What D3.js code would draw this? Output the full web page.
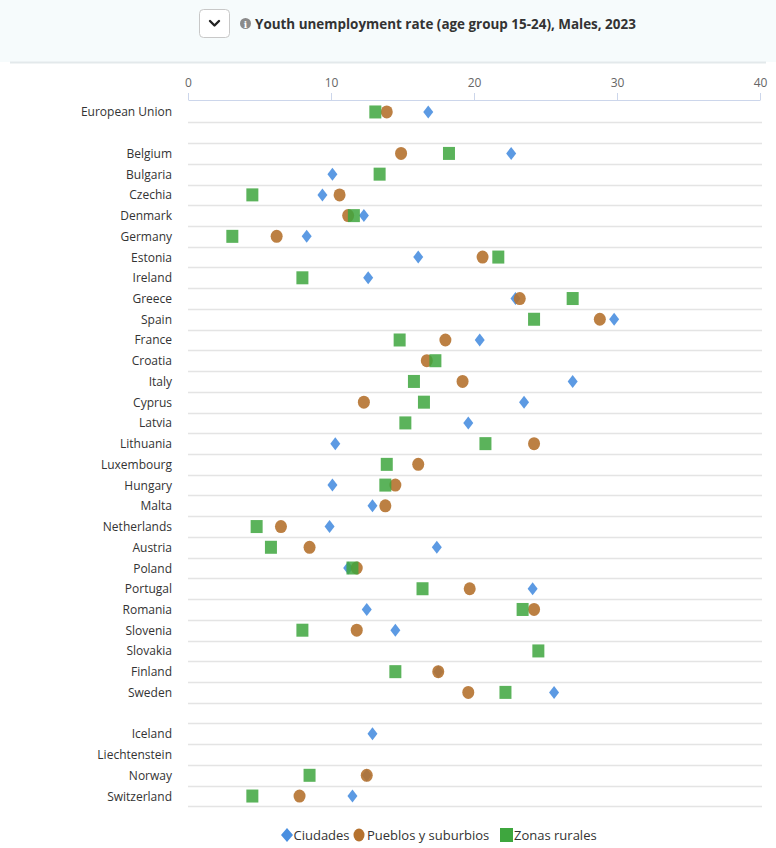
<!DOCTYPE html>
<html><head><meta charset="utf-8">
<script src="https://cdn.jsdelivr.net/npm/d3@7"></script>
<style>body{margin:0;background:#fff;font-family:"Open Sans",sans-serif;}</style>
</head><body><svg id="c" width="776" height="848"></svg>
<script>
const title = "Youth unemployment rate (age group 15-24), Males, 2023";
const categories = ["European Union","_gap1","Belgium","Bulgaria","Czechia","Denmark","Germany","Estonia","Ireland","Greece","Spain","France","Croatia","Italy","Cyprus","Latvia","Lithuania","Luxembourg","Hungary","Malta","Netherlands","Austria","Poland","Portugal","Romania","Slovenia","Slovakia","Finland","Sweden","_gap2","Iceland","Liechtenstein","Norway","Switzerland"];
// null = no data
const ciudades = [16.8,null,22.6,10.1,9.4,12.3,8.3,16.1,12.6,22.9,29.8,20.4,null,26.9,23.5,19.6,10.3,null,10.1,12.9,9.9,17.4,11.2,24.1,12.5,14.5,null,17.5,25.6,null,12.9,null,12.5,11.5];
const pueblos = [13.9,null,14.9,null,10.6,11.2,6.2,20.6,null,23.2,28.8,18.0,16.7,19.2,12.3,null,24.2,16.1,14.5,13.8,6.5,8.5,11.8,19.7,24.2,11.8,null,17.5,19.6,null,null,null,12.5,7.8];
const rurales = [13.1,null,18.25,13.4,4.5,11.6,3.1,21.7,8.0,26.9,24.2,14.8,17.3,15.8,16.5,15.2,20.8,13.9,13.8,null,4.8,5.8,11.5,16.4,23.4,8.0,24.5,14.5,22.2,null,null,null,8.5,4.5];
const tickValues = [0,10,20,30,40];
const seriesNames = ["Ciudades","Pueblos y suburbios","Zonas rurales"];
const colors = ["#4a8fe0","#b5722f","#3ea63e"];

const svg = d3.select("#c");
// header
svg.append("rect").attr("x",0).attr("y",0).attr("width",776).attr("height",62).attr("fill","#f6fbfc");
svg.append("line").attr("x1",10).attr("x2",766).attr("y1",62.5).attr("y2",62.5).attr("stroke","#e3e9eb").attr("stroke-width",2);
svg.append("rect").attr("x",199.5).attr("y",9.5).attr("width",30).attr("height",28).attr("rx",4).attr("fill","#fff").attr("stroke","#c8c8c8");
svg.append("path").attr("d","M210,21 L214.5,25.5 L219,21").attr("fill","none").attr("stroke","#222").attr("stroke-width",2.4).attr("stroke-linecap","round").attr("stroke-linejoin","round");
svg.append("circle").attr("cx",245.5).attr("cy",23.5).attr("r",5.5).attr("fill","#8a8a8a");
svg.append("text").attr("x",245.5).attr("y",27.5).attr("text-anchor","middle").attr("font-size",9).attr("font-weight","bold").attr("fill","#fff").attr("font-family","DejaVu Serif").text("i");
svg.append("text").attr("x",255).attr("y",29).attr("font-size",13.45).attr("font-weight","bold").attr("fill","#333").text(title);

const x = d3.scaleLinear().domain([0,40]).range([188,760]);
const y = d3.scaleBand().domain(categories).range([101.6,806.4]).paddingInner(0).paddingOuter(0);

// axis
const ax = svg.append("g").attr("transform","translate(0,100)")
  .call(d3.axisTop(x).tickValues(tickValues).tickSize(7).tickPadding(6).tickFormat(d3.format("d")));
ax.select(".domain").attr("stroke","#ccd6eb").attr("d","M188.5,0.5H760.5");
ax.selectAll(".tick line").attr("stroke","#ccd6eb");
ax.selectAll(".tick text").attr("fill","#666").attr("font-size",12).attr("font-family","Open Sans");

// row separators
const bounds = categories.map(c=>y(c)+y.bandwidth());
svg.append("g").selectAll("line").data(bounds).join("line")
  .attr("x1",188).attr("x2",762).attr("y1",d=>Math.round(d)+0.5).attr("y2",d=>Math.round(d)+0.5)
  .attr("stroke","#e4e4e4").attr("stroke-width",1.5);

// labels
svg.append("g").selectAll("text").data(categories.filter(c=>!c.startsWith("_"))).join("text")
  .attr("x",172).attr("y",d=>y(d)+y.bandwidth()/2+4.5).attr("text-anchor","end")
  .attr("font-size",12).attr("fill","#333").text(d=>d);

const cy = i => y(categories[i])+y.bandwidth()/2;
// diamonds
svg.append("g").selectAll("path").data(ciudades.map((v,i)=>({v,i})).filter(d=>d.v!=null)).join("path")
  .attr("d",d=>{const X=x(d.v),Y=cy(d.i);return `M${X},${Y-6.5}L${X+5},${Y}L${X},${Y+6.5}L${X-5},${Y}Z`;})
  .attr("fill",colors[0]).attr("fill-opacity",0.9);
// circles
svg.append("g").selectAll("ellipse").data(pueblos.map((v,i)=>({v,i})).filter(d=>d.v!=null)).join("ellipse")
  .attr("cx",d=>x(d.v)).attr("cy",d=>cy(d.i)).attr("rx",6).attr("ry",6.5)
  .attr("fill",colors[1]).attr("fill-opacity",0.9);
// squares
svg.append("g").selectAll("rect").data(rurales.map((v,i)=>({v,i})).filter(d=>d.v!=null)).join("rect")
  .attr("x",d=>x(d.v)-6).attr("y",d=>cy(d.i)-6.5).attr("width",12).attr("height",13)
  .attr("fill",colors[2]).attr("fill-opacity",0.85);

// legend
const lg = svg.append("g");
const ly = 835;
lg.append("path").attr("d",`M287,${ly-7}L293,${ly}L287,${ly+7}L281,${ly}Z`).attr("fill",colors[0]);
lg.append("text").attr("x",293.5).attr("y",ly+4.5).attr("font-size",13).attr("fill","#333").text(seriesNames[0]);
lg.append("ellipse").attr("cx",359).attr("cy",ly).attr("rx",5.5).attr("ry",6.5).attr("fill",colors[1]);
lg.append("text").attr("x",367).attr("y",ly+4.5).attr("font-size",13).attr("fill","#333").text(seriesNames[1]);
lg.append("rect").attr("x",500).attr("y",ly-7).attr("width",13).attr("height",14).attr("fill",colors[2]);
lg.append("text").attr("x",514).attr("y",ly+4.5).attr("font-size",13).attr("fill","#333").text(seriesNames[2]);
</script></body></html>
